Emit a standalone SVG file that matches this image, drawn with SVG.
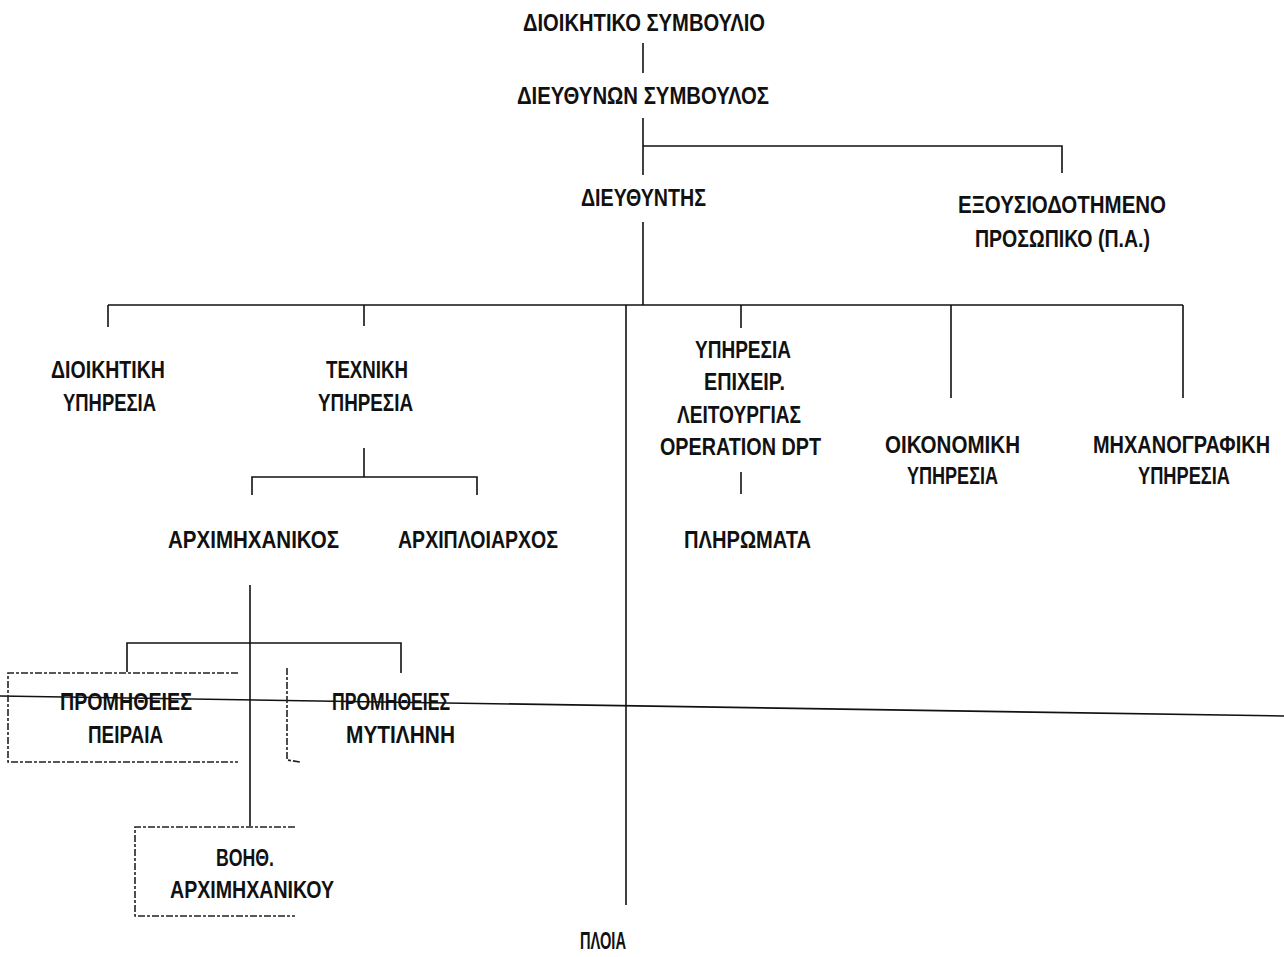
<svg xmlns="http://www.w3.org/2000/svg" width="1284" height="957" viewBox="0 0 1284 957">
<style>
text{font-family:"Liberation Sans","Noto Sans",sans-serif;font-size:24px;font-weight:bold;fill:#111;text-anchor:start}
.ln{stroke:#111;stroke-width:1.6;fill:none}
.dsh{stroke:#222;stroke-width:1.6;fill:none;stroke-dasharray:7 2 3 2}
</style>
<rect width="1284" height="957" fill="#fff"/>
<g id="connectors">
<line class="ln" x1="643" y1="43" x2="643" y2="73"/>
<line class="ln" x1="643" y1="118" x2="643" y2="175"/>
<polyline class="ln" points="643,146 1062,146 1062,173"/>
<line class="ln" x1="643" y1="222" x2="643" y2="305"/>
<line class="ln" x1="108" y1="305" x2="1183" y2="305"/>
<line class="ln" x1="108" y1="305" x2="108" y2="327"/>
<line class="ln" x1="364" y1="305" x2="364" y2="326"/>
<line class="ln" x1="626" y1="305" x2="626" y2="905"/>
<line class="ln" x1="741" y1="305" x2="741" y2="328"/>
<line class="ln" x1="951" y1="305" x2="951" y2="398"/>
<line class="ln" x1="1183" y1="305" x2="1183" y2="398"/>
<line class="ln" x1="364" y1="448" x2="364" y2="477"/>
<polyline class="ln" points="252,495 252,477 477,477 477,495"/>
<line class="ln" x1="741" y1="472" x2="741" y2="494"/>
<line class="ln" x1="250" y1="585" x2="250" y2="826"/>
<polyline class="ln" points="127,672 127,643 401,643 401,673"/>
<line class="ln" x1="0" y1="696" x2="1284" y2="716"/>
</g>
<g id="n-dioikitiko-symvoulio"><text x="523" y="31" textLength="242" lengthAdjust="spacingAndGlyphs">ΔΙΟΙΚΗΤΙΚΟ ΣΥΜΒΟΥΛΙΟ</text></g>
<g id="n-dieythynon-symvoulos"><text x="517" y="104" textLength="252" lengthAdjust="spacingAndGlyphs">ΔΙΕΥΘΥΝΩΝ ΣΥΜΒΟΥΛΟΣ</text></g>
<g id="n-dieythyntis"><text x="581" y="206" textLength="125" lengthAdjust="spacingAndGlyphs">ΔΙΕΥΘΥΝΤΗΣ</text></g>
<g id="n-exousiodotimeno">
<text x="958" y="213" textLength="208" lengthAdjust="spacingAndGlyphs">ΕΞΟΥΣΙΟΔΟΤΗΜΕΝΟ</text>
<text x="975" y="247" textLength="175" lengthAdjust="spacingAndGlyphs">ΠΡΟΣΩΠΙΚΟ (Π.Α.)</text>
</g>
<g id="n-dioikitiki">
<text x="51" y="378" textLength="114" lengthAdjust="spacingAndGlyphs">ΔΙΟΙΚΗΤΙΚΗ</text>
<text x="63" y="411" textLength="93" lengthAdjust="spacingAndGlyphs">ΥΠΗΡΕΣΙΑ</text>
</g>
<g id="n-texniki">
<text x="326" y="378" textLength="82" lengthAdjust="spacingAndGlyphs">ΤΕΧΝΙΚΗ</text>
<text x="318" y="411" textLength="95" lengthAdjust="spacingAndGlyphs">ΥΠΗΡΕΣΙΑ</text>
</g>
<g id="n-operation">
<text x="695" y="358" textLength="96" lengthAdjust="spacingAndGlyphs">ΥΠΗΡΕΣΙΑ</text>
<text x="704" y="390" textLength="81" lengthAdjust="spacingAndGlyphs">ΕΠΙΧΕΙΡ.</text>
<text x="677" y="423" textLength="124" lengthAdjust="spacingAndGlyphs">ΛΕΙΤΟΥΡΓΙΑΣ</text>
<text x="660" y="455" textLength="161" lengthAdjust="spacingAndGlyphs">OPERATION DPT</text>
</g>
<g id="n-plirómata"><text x="684" y="548" textLength="127" lengthAdjust="spacingAndGlyphs">ΠΛΗΡΩΜΑΤΑ</text></g>
<g id="n-oikonomiki">
<text x="885" y="453" textLength="135" lengthAdjust="spacingAndGlyphs">ΟΙΚΟΝΟΜΙΚΗ</text>
<text x="907" y="484" textLength="91" lengthAdjust="spacingAndGlyphs">ΥΠΗΡΕΣΙΑ</text>
</g>
<g id="n-michanografiki">
<text transform="translate(1093,453) scale(0.82,1)" x="0" y="0" textLength="216" lengthAdjust="spacingAndGlyphs">ΜΗΧΑΝΟΓΡΑΦΙΚΗ</text>
<text x="1138" y="484" textLength="92" lengthAdjust="spacingAndGlyphs">ΥΠΗΡΕΣΙΑ</text>
</g>
<g id="n-archimichanikos"><text x="168" y="548" textLength="171" lengthAdjust="spacingAndGlyphs">ΑΡΧΙΜΗΧΑΝΙΚΟΣ</text></g>
<g id="n-archiploiarchos"><text x="398" y="548" textLength="160" lengthAdjust="spacingAndGlyphs">ΑΡΧΙΠΛΟΙΑΡΧΟΣ</text></g>
<g id="n-promitheies-peiraia">
<polyline class="dsh" points="238,673 8,673 8,762 238,762"/>
<text x="60" y="710" textLength="132" lengthAdjust="spacingAndGlyphs">ΠΡΟΜΗΘΕΙΕΣ</text>
<text x="88" y="743" textLength="75" lengthAdjust="spacingAndGlyphs">ΠΕΙΡΑΙΑ</text>
</g>
<g id="n-promitheies-mytilini">
<polyline class="dsh" points="287,668 287,760 300,762"/>
<text x="332" y="710" textLength="118" lengthAdjust="spacingAndGlyphs">ΠΡΟΜΗΘΕΙΕΣ</text>
<text x="346" y="743" textLength="109" lengthAdjust="spacingAndGlyphs">ΜΥΤΙΛΗΝΗ</text>
</g>
<g id="n-voith-archimichanikou">
<polyline class="dsh" points="295,827 135,827 135,916 295,916"/>
<text x="216" y="866" textLength="58" lengthAdjust="spacingAndGlyphs">ΒΟΗΘ.</text>
<text x="170" y="898" textLength="164" lengthAdjust="spacingAndGlyphs">ΑΡΧΙΜΗΧΑΝΙΚΟΥ</text>
</g>
<g id="n-ploia"><text x="580" y="949" textLength="46" lengthAdjust="spacingAndGlyphs">ΠΛΟΙΑ</text></g>
</svg>
